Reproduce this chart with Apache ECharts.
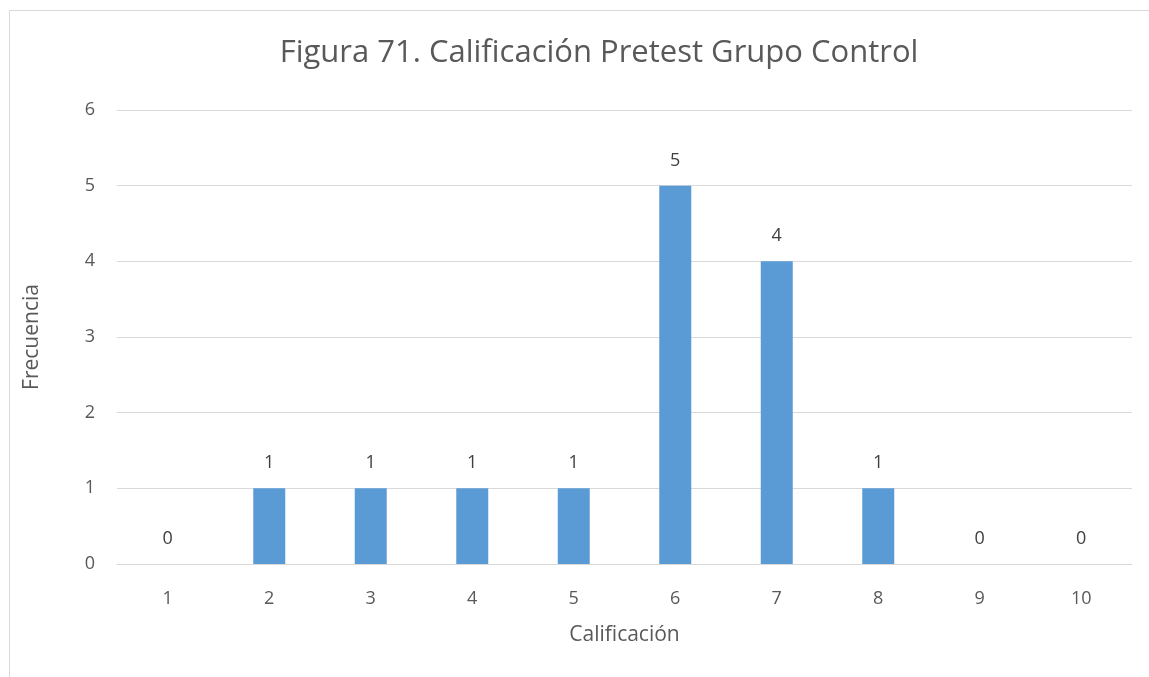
<!DOCTYPE html>
<html>
<head>
<meta charset="utf-8">
<script src="https://cdn.jsdelivr.net/npm/echarts@6/dist/echarts.min.js"></script>
<style>
  html, body { margin: 0; padding: 0; background: #ffffff; }
  #chart { width: 1149px; height: 677px; }
</style>
</head>
<body>
<div id="chart"></div>
<script>
// Grades (1–10) and how many students in the control group got each one on the pretest
const calificaciones = ['1', '2', '3', '4', '5', '6', '7', '8', '9', '10'];
const frecuencias = [0, 1, 1, 1, 1, 5, 4, 1, 0, 0];
const yTicks = [0, 1, 2, 3, 4, 5, 6];

const textColor = '#595959';
const fontFamily = '"Open Sans", "Noto Sans", sans-serif';

const chart = echarts.init(document.getElementById('chart'), null, { renderer: 'canvas' });

chart.setOption({
  animation: false,
  backgroundColor: '#ffffff',
  textStyle: { fontFamily: fontFamily },
  title: {
    text: 'Figura 71. Calificación Pretest Grupo Control',
    left: 594,
    textAlign: 'center',
    top: 33,
    textStyle: { fontSize: 31, fontWeight: 'normal', color: textColor, fontFamily: fontFamily }
  },
  // thin frame around the chart area
  graphic: [{
    type: 'rect',
    shape: { x: 9.5, y: 10.5, width: 1200, height: 700 },
    style: { fill: 'none', stroke: '#d9d9d9', lineWidth: 1 },
    silent: true,
    z: -1
  }],
  grid: { left: 117, right: 17, top: 110, bottom: 113, containLabel: false },
  xAxis: {
    type: 'category',
    data: calificaciones,
    name: 'Calificación',
    nameLocation: 'middle',
    nameGap: 61,
    nameTextStyle: { fontSize: 21, color: textColor, fontFamily: fontFamily },
    axisLine: { show: true, lineStyle: { color: '#d9d9d9', width: 1 } },
    axisTick: { show: false },
    axisLabel: { margin: 26, fontSize: 18, color: textColor, fontFamily: fontFamily }
  },
  yAxis: {
    type: 'value',
    min: yTicks[0],
    max: yTicks[yTicks.length - 1],
    interval: 1,
    name: 'Frecuencia',
    nameLocation: 'middle',
    nameRotate: 90,
    nameGap: 74,
    nameTextStyle: { fontSize: 21, color: textColor, fontFamily: fontFamily },
    axisLine: { show: false },
    axisTick: { show: false },
    axisLabel: { margin: 22, fontSize: 18, color: textColor, fontFamily: fontFamily },
    splitLine: { lineStyle: { color: '#d9d9d9', width: 1 } }
  },
  series: [{
    type: 'bar',
    data: frecuencias,
    barWidth: 32,
    itemStyle: { color: '#5b9bd5' },
    label: {
      show: true,
      position: 'top',
      distance: 16,
      fontSize: 18,
      color: '#404040',
      fontFamily: fontFamily
    }
  }]
});
</script>
</body>
</html>
